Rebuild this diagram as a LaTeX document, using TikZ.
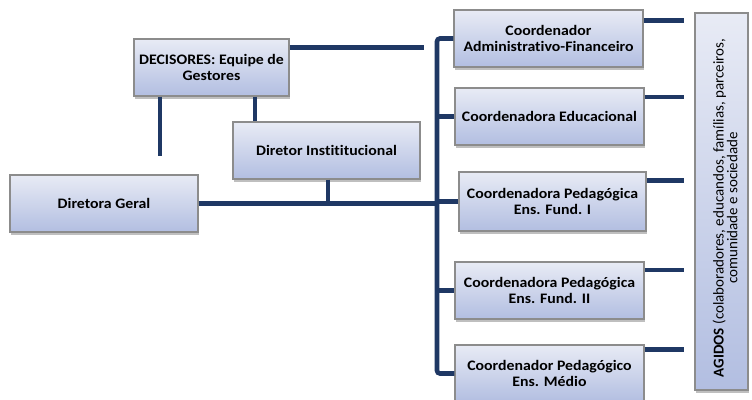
\documentclass[tikz,border=0pt]{standalone}
\usepackage{fontspec}
\setmainfont[FakeStretch=1.09, Ligatures=NoCommon]{Carlito}
\newfontfamily\sidefont[Ligatures=NoCommon]{Carlito}
\usetikzlibrary{shadows}
\definecolor{linkblue}{RGB}{31,56,100}
\definecolor{boxtop}{RGB}{232,235,245}
\definecolor{boxbottom}{RGB}{178,190,225}
\definecolor{boxedge}{RGB}{140,140,140}
\tikzset{
  orgbox/.style={draw=boxedge, line width=1.1pt, top color=boxtop, bottom color=boxbottom,
    align=center, inner sep=2pt, font=\fontsize{14.5}{16.5}\selectfont\bfseries,
    drop shadow={shadow xshift=1pt, shadow yshift=-2.5pt, opacity=0.25, fill=black}},
  link/.style={draw=linkblue, line width=4.6pt},
}
\begin{document}
\begin{tikzpicture}[x=1pt, y=-1pt]
\clip (0,0) rectangle (752,399);
\fill[white] (0,0) rectangle (752,399);

% boxes
\node[orgbox, minimum width=155pt, minimum height=57pt] (dec) at (211.5,67.5) {DECISORES: Equipe de\\Gestores};
\node[orgbox, minimum width=187pt, minimum height=57pt] (dir) at (326.5,150.5) {Diretor Instititucional};
\node[orgbox, minimum width=188pt, minimum height=57pt] (dg) at (104,203.5) {Diretora Geral};
\node[orgbox, minimum width=189pt, minimum height=57pt] (adm) at (548.5,38.5) {Coordenador\\Administrativo-Financeiro};
\node[orgbox, minimum width=189pt, minimum height=57pt] (edu) at (549.5,116.5) {Coordenadora Educacional};
\node[orgbox, minimum width=187pt, minimum height=59pt] (f1) at (552.5,201.5) {Coordenadora Pedagógica\\Ens. Fund. I};
\node[orgbox, minimum width=189pt, minimum height=57pt] (f2) at (549.5,290.5) {Coordenadora Pedagógica\\Ens. Fund. II};
\node[orgbox, minimum width=189pt, minimum height=57pt] (med) at (549.5,373.5) {Coordenador Pedagógico\\Ens. Médio};
\node[orgbox, minimum width=53pt, minimum height=377pt] (agi) at (721.5,201.5) {};
\node[rotate=90, align=center, font=\sidefont\fontsize{15}{12.5}\selectfont] (agitext) at (725,208)
  {\textbf{AGIDOS} (colaboradores, educandos, famílias, parceiros,\\comunidade e sociedade};

% free ends of connectors
\coordinate (decR) at (424,47.5);
\coordinate (decL) at (160,156);
\coordinate (trunk) at (437,0);
\coordinate (sA) at (684,20.5);
\coordinate (sB) at (684,97);
\coordinate (sC) at (684,180.5);
\coordinate (sD) at (684,270);
\coordinate (sE) at (684,349.5);

% decision team links
\draw[link] (dec.east |- decR) -- (decR);
\draw[link] (dec.south -| decL) -- (decL);
\draw[link] ([xshift=43.5pt]dec.south) -- ([xshift=43.5pt]dec.south |- dir.north);
\draw[link] ([xshift=1.5pt]dir.south) -- ([xshift=1.5pt]dir.south |- dg.east);

% main line and trunk to the coordinators
\draw[link] (dg.east) -- (dg.east -| trunk);
\draw[link, rounded corners=3pt] (adm.west) -- (adm.west -| trunk) -- (med.west -| trunk) -- (med.west);
\draw[link] (edu.west -| trunk) -- (edu.west);
\draw[link] (f1.west -| trunk) -- (f1.west);
\draw[link] (f2.west -| trunk) -- (f2.west);

% stubs towards the stakeholders
\draw[link] (adm.east |- sA) -- (sA);
\draw[link] (edu.east |- sB) -- (sB);
\draw[link] (f1.east |- sC) -- (sC);
\draw[link] (f2.east |- sD) -- (sD);
\draw[link] (med.east |- sE) -- (sE);
\end{tikzpicture}
\end{document}
